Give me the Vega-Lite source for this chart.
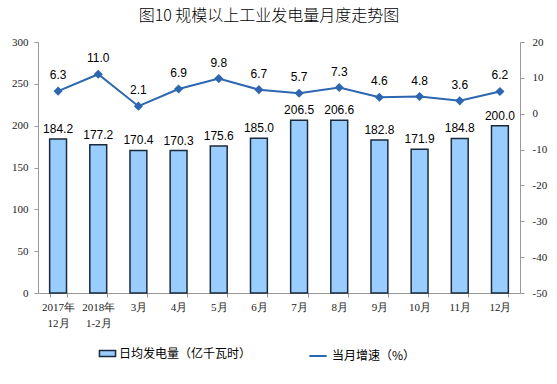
{
  "$schema": "https://vega.github.io/schema/vega-lite/v6.json",
  "width": 482,
  "height": 251,
  "autosize": {"type": "none"},
  "padding": {"left": 38, "top": 42, "right": 37, "bottom": 91},
  "background": "white",
  "title": {
    "text": "图10  规模以上工业发电量月度走势图",
    "font": "Noto Sans CJK SC",
    "fontSize": 16,
    "fontWeight": 300,
    "color": "#000000",
    "anchor": "middle",
    "dx": -10,
    "offset": 12
  },
  "data": {
    "values": [
      {"m": "2017年\n12月", "gen": 184.2, "g": 6.3},
      {"m": "2018年\n1-2月", "gen": 177.2, "g": 11.0},
      {"m": "3月", "gen": 170.4, "g": 2.1},
      {"m": "4月", "gen": 170.3, "g": 6.9},
      {"m": "5月", "gen": 175.6, "g": 9.8},
      {"m": "6月", "gen": 185.0, "g": 6.7},
      {"m": "7月", "gen": 206.5, "g": 5.7},
      {"m": "8月", "gen": 206.6, "g": 7.3},
      {"m": "9月", "gen": 182.8, "g": 4.6},
      {"m": "10月", "gen": 171.9, "g": 4.8},
      {"m": "11月", "gen": 184.8, "g": 3.6},
      {"m": "12月", "gen": 200.0, "g": 6.2}
    ]
  },
  "encoding": {
    "x": {
      "field": "m",
      "type": "nominal",
      "sort": null,
      "scale": {"paddingInner": 0.58, "paddingOuter": 0.29},
      "axis": {
        "title": null,
        "labelAngle": 0,
        "labelExpr": "split(datum.label, '\\n')",
        "labelFont": "Liberation Serif",
        "labelFontSize": 11,
        "labelColor": "#222222",
        "labelPadding": 4,
        "tickBand": "extent",
        "tickSize": 4,
        "tickColor": "#999999",
        "domainColor": "#999999",
        "labelLineHeight": 16
      }
    }
  },
  "layer": [
    {
      "mark": {"type": "bar", "stroke": "#1B2A3A", "strokeWidth": 1.5},
      "encoding": {
        "y": {
          "field": "gen",
          "type": "quantitative",
          "scale": {"domain": [0, 300]},
          "axis": {
            "title": null,
            "values": [0, 50, 100, 150, 200, 250, 300],
            "grid": false,
            "labelFont": "Liberation Serif",
            "labelFontSize": 11,
            "labelColor": "#222222",
            "tickColor": "#999999",
            "domainColor": "#999999",
            "tickSize": 4,
            "labelPadding": 6
          }
        },
        "fill": {
          "datum": "日均发电量（亿千瓦时）",
          "scale": {"range": ["#99CCFF"]},
          "legend": {
            "title": null,
            "orient": "none",
            "legendX": 62,
            "legendY": 304,
            "symbolType": "M-1.2,-0.45H1.2V0.45H-1.2Z",
            "symbolSize": 180,
            "symbolStrokeColor": "#1B2A3A",
            "symbolStrokeWidth": 1.5,
            "labelFont": "Noto Sans CJK SC",
            "labelFontSize": 12,
            "labelColor": "#000000",
            "labelOffset": 4
          }
        }
      }
    },
    {
      "mark": {"type": "text", "baseline": "bottom", "dy": -3, "font": "Liberation Sans", "fontSize": 12, "color": "#000000"},
      "encoding": {
        "y": {"field": "gen", "type": "quantitative", "scale": {"domain": [0, 300]}, "axis": null},
        "text": {"field": "gen", "type": "quantitative", "format": ".1f"}
      }
    },
    {
      "mark": {"type": "line", "strokeWidth": 2, "point": {"shape": "diamond", "size": 40, "filled": true, "color": "#2E67B1"}},
      "encoding": {
        "y": {
          "field": "g",
          "type": "quantitative",
          "scale": {"domain": [-50, 20]},
          "axis": {
            "orient": "right",
            "title": null,
            "values": [-50, -40, -30, -20, -10, 0, 10, 20],
            "labelExpr": "'' + datum.value",
            "grid": false,
            "labelFont": "Liberation Serif",
            "labelFontSize": 11,
            "labelColor": "#222222",
            "tickColor": "#999999",
            "domainColor": "#999999",
            "tickSize": 4,
            "labelPadding": 8
          }
        },
        "stroke": {
          "datum": "当月增速（%）",
          "scale": {"range": ["#2E67B1"]},
          "legend": {
            "title": null,
            "orient": "none",
            "legendX": 270,
            "legendY": 304,
            "symbolType": "stroke",
            "symbolSize": 300,
            "symbolStrokeWidth": 2,
            "labelFont": "Noto Sans CJK SC",
            "labelFontSize": 12,
            "labelColor": "#000000",
            "labelOffset": 4
          }
        }
      }
    },
    {
      "mark": {"type": "text", "baseline": "bottom", "dy": -9, "font": "Liberation Sans", "fontSize": 12, "color": "#000000"},
      "encoding": {
        "y": {"field": "g", "type": "quantitative", "scale": {"domain": [-50, 20]}, "axis": null},
        "text": {"field": "g", "type": "quantitative", "format": ".1f"}
      }
    }
  ],
  "resolve": {"scale": {"y": "independent", "fill": "independent", "stroke": "independent"}},
  "config": {"view": {"stroke": null}}
}
